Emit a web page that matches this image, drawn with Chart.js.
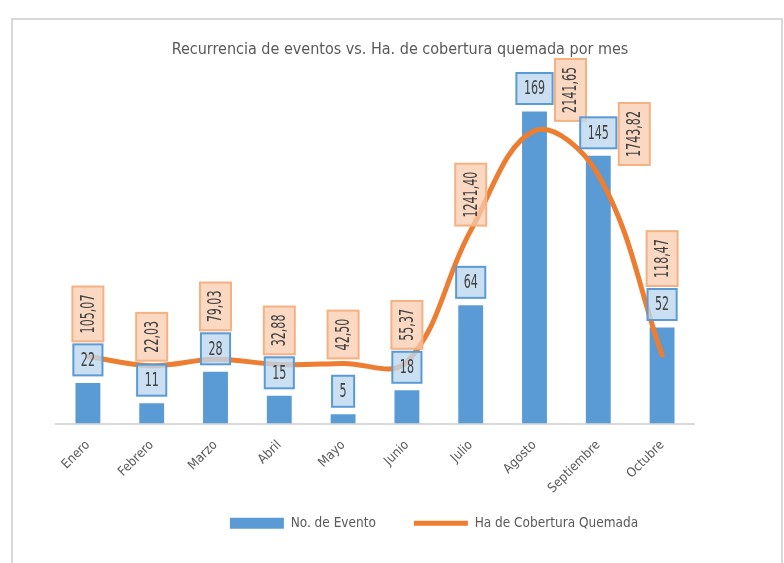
<!DOCTYPE html>
<html>
<head>
<meta charset="utf-8">
<script src="https://cdn.jsdelivr.net/npm/chart.js@4.4.0/dist/chart.umd.min.js"></script>
<style>
  html, body { margin: 0; padding: 0; background: #fff; }
  #wrap { position: relative; width: 784px; height: 563px; overflow: hidden; }
  #frame { position: absolute; left: 11px; top: 18px; width: 772px; height: 600px;
           box-sizing: border-box; border: 2px solid #d9d9d9; pointer-events: none; }
  canvas { position: absolute; left: 0; top: 0; }
</style>
</head>
<body>
<div id="wrap">
  <canvas id="chart" width="784" height="563"></canvas>
  <div id="frame"></div>
</div>
<script>
const MONTHS = ['Enero', 'Febrero', 'Marzo', 'Abril', 'Mayo', 'Junio',
  'Julio', 'Agosto', 'Septiembre', 'Octubre'];
const EVENTOS = [22, 11, 28, 15, 5, 18, 64, 169, 145, 52];
const HECTAREAS = [105.07, 22.03, 79.03, 32.88, 42.50, 55.37, 1241.40, 2141.65, 1743.82, 118.47];

const FONT = '"DejaVu Sans Condensed", "Liberation Sans Narrow", sans-serif';
const GREY = '#595959';
const SQUEEZE = 0.65;
const LEGEND_GAP = 38;

function fmt(v) {
  return v.toFixed(2).replace('.', ',');
}

function drawBox(ctx, x, y, w, h, fill, edge) {
  ctx.fillStyle = fill;
  ctx.fillRect(x, y, w, h);
  ctx.strokeStyle = edge;
  ctx.lineWidth = 2;
  ctx.strokeRect(x, y, w, h);
}

function drawText(ctx, txt, x, y, rot) {
  ctx.save();
  ctx.translate(x, y);
  ctx.rotate(rot);
  ctx.scale(SQUEEZE, 1);
  ctx.fillStyle = '#404040';
  ctx.textAlign = 'center';
  ctx.textBaseline = 'middle';
  ctx.fillText(txt, 0, 1);
  ctx.restore();
}

// boxed data labels, drawn like Excel callouts
const labelBoxes = {
  id: 'labelBoxes',
  afterLayout(chart) {
    chart.titleBlock.left += 25; chart.titleBlock.right += 25;
    // legend uses a wide item gap; pull it back up under the axis
    const lg = chart.legend;
    lg.left += 59; lg.right += 59;
    lg.top -= LEGEND_GAP - 11; lg.bottom -= LEGEND_GAP - 11;
  },
  afterDatasetsDraw(chart) {
    const ctx = chart.ctx;
    const bars = chart.getDatasetMeta(0).data;
    const pts = chart.getDatasetMeta(1).data;
    ctx.save();
    ctx.font = '19px ' + FONT;
    bars.forEach((bar, i) => {
      const txt = String(EVENTOS[i]);
      const w = ctx.measureText(txt).width * SQUEEZE + 15;
      const h = 31;
      const cy = bar.y - 23;
      const blueTop = cy - h / 2;
      drawBox(ctx, bar.x - w / 2, blueTop, w, h, 'rgba(189,215,238,0.8)', '#5B9BD5');
      drawText(ctx, txt, bar.x, cy, 0);

      const ot = fmt(HECTAREAS[i]);
      const len = ctx.measureText(ot).width * SQUEEZE + 16;
      const ow = 31;
      let ox = bar.x;
      let bottom = Math.min(pts[i].y - 5, blueTop - 3);
      if (bottom - len < 65) {
        ox = bar.x + 36;
        bottom = pts[i].y - 10;
      }
      drawBox(ctx, ox - ow / 2, bottom - len, ow, len, 'rgba(248,203,173,0.75)', '#F4B183');
      drawText(ctx, ot, ox, bottom - len / 2, -Math.PI / 2);
    });
    ctx.restore();
  }
};

new Chart(document.getElementById('chart'), {
  data: {
    labels: MONTHS,
    datasets: [
      {
        type: 'bar',
        label: 'No. de Evento',
        data: EVENTOS,
        yAxisID: 'y',
        backgroundColor: '#5B9BD5',
        barPercentage: 0.39,
        categoryPercentage: 1,
        pointStyle: 'rect',
        order: 2
      },
      {
        type: 'line',
        label: 'Ha de Cobertura Quemada',
        data: HECTAREAS,
        yAxisID: 'y1',
        borderColor: '#ED7D31',
        backgroundColor: '#ED7D31',
        borderWidth: 5,
        borderCapStyle: 'round',
        tension: 0.38,
        pointRadius: 0,
        pointStyle: 'line',
        order: 1
      }
    ]
  },
  options: {
    responsive: false,
    animation: false,
    layout: { padding: { left: 56, right: 90, top: 0, bottom: 21 - (LEGEND_GAP - 13) } },
    scales: {
      x: {
        grid: { display: false, drawTicks: false },
        border: { color: '#d9d9d9', width: 2 },
        ticks: {
          maxRotation: 45, minRotation: 45, padding: 14,
          font: { family: FONT, size: 13 }, color: GREY
        },
        afterFit(s) { s.height = 82; }
      },
      y: { display: false, min: 0, max: 180 },
      y1: { display: false, min: -500, max: 2500, position: 'right' }
    },
    plugins: {
      title: {
        display: true,
        text: 'Recurrencia de eventos vs. Ha. de cobertura quemada por mes',
        color: GREY,
        font: { family: FONT, size: 16, weight: 'normal' },
        padding: { top: 40, bottom: 32 }
      },
      legend: {
        position: 'bottom',
        labels: {
          usePointStyle: true, pointStyleWidth: 54, boxHeight: 11,
          padding: LEGEND_GAP, color: GREY,
          font: { family: FONT, size: 13.5 },
          sort: (a, b) => a.datasetIndex - b.datasetIndex
        }
      },
      tooltip: { enabled: false }
    }
  },
  plugins: [labelBoxes]
});
</script>
</body>
</html>
